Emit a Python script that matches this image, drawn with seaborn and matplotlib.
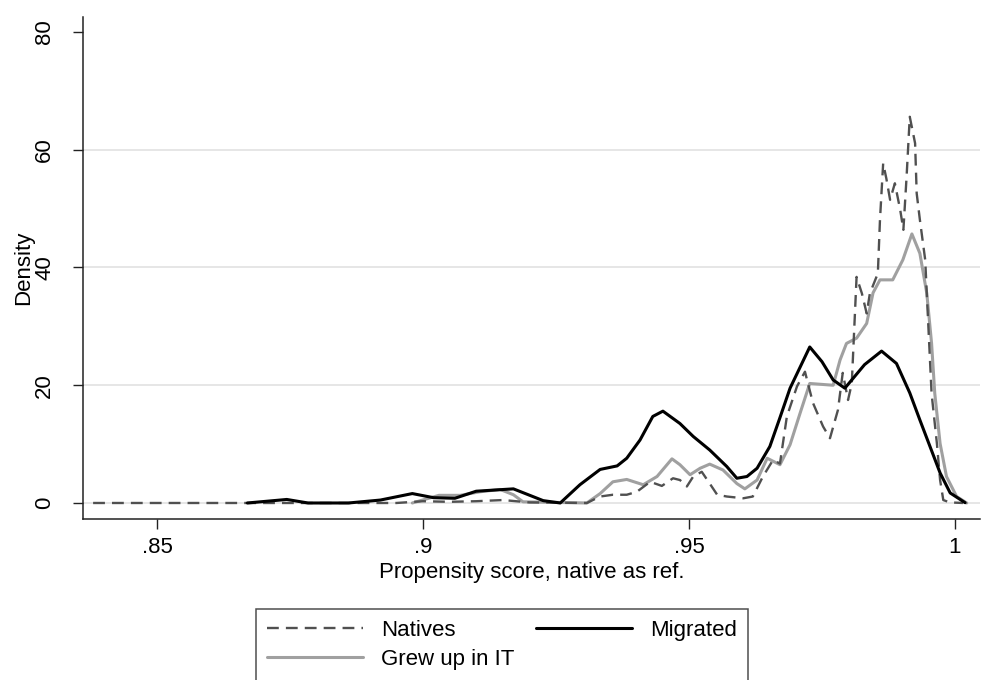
import matplotlib
matplotlib.use("Agg")
import matplotlib.pyplot as plt
from matplotlib.lines import Line2D
import seaborn as sns
import pandas as pd

# Kernel density estimates of the propensity score by group
natives_x = [0.838, 0.870, 0.895, 0.900, 0.905, 0.910, 0.915, 0.920, 0.9308,
             0.9333, 0.9357, 0.9383, 0.9402, 0.9427, 0.9449, 0.9470, 0.9483,
             0.9496, 0.9508, 0.9524, 0.9539, 0.9553, 0.9571, 0.9602, 0.9620,
             0.9639, 0.9658, 0.9671, 0.9684, 0.9703, 0.9718, 0.9733, 0.9752,
             0.9765, 0.9780, 0.9789, 0.9799, 0.9806, 0.9815, 0.9825, 0.9834,
             0.9840, 0.9855, 0.9859, 0.9865, 0.9871, 0.9878, 0.9887, 0.9897,
             0.9903, 0.9909, 0.9915, 0.9925, 0.9928, 0.9934, 0.9944, 0.9950,
             0.9956, 0.9966, 0.9972, 0.9978, 0.9990, 1.0015]
natives_y = [0.0, 0.0, 0.0, 0.3, 0.2, 0.3, 0.5, 0.1, 0.0,
             1.1, 1.4, 1.4, 1.9, 3.6, 2.9, 4.2, 3.9,
             2.8, 4.5, 5.3, 3.3, 1.4, 1.1, 0.8, 1.1,
             4.5, 7.3, 6.7, 14.7, 19.8, 22.3, 17.0, 13.0,
             11.0, 15.8, 22.1, 17.5, 20.3, 38.4, 35.6, 32.2,
             35.6, 39.0, 48.1, 57.7, 55.1, 51.5, 54.3, 49.8,
             46.4, 55.4, 65.6, 61.1, 52.6, 48.1, 41.3, 29.9,
             18.6, 10.1, 3.9, 0.5, 0.1, 0.0]

migrated_x = [0.867, 0.8744, 0.8784, 0.886, 0.892, 0.898, 0.902, 0.906, 0.910,
              0.917, 0.9226, 0.9258, 0.9295, 0.9333, 0.9365, 0.9383, 0.9408,
              0.9432, 0.9451, 0.9483, 0.9508, 0.9539, 0.9571, 0.9590, 0.9609,
              0.9628, 0.9652, 0.9671, 0.9690, 0.9727, 0.9750, 0.9771, 0.9793,
              0.9830, 0.9862, 0.9890, 0.9915, 0.9934, 0.9953, 0.9972, 0.9991,
              1.0019]
migrated_y = [0.0, 0.6, 0.0, 0.0, 0.5, 1.6, 0.9, 0.8, 2.0,
              2.4, 0.4, 0.0, 3.1, 5.7, 6.3, 7.6, 10.7,
              14.7, 15.6, 13.5, 11.3, 9.0, 6.2, 4.2, 4.5,
              5.9, 9.6, 14.5, 19.5, 26.5, 24.0, 20.9, 19.5,
              23.5, 25.8, 23.7, 18.7, 14.1, 9.6, 5.1, 1.7,
              0.05]

grew_x = [0.898, 0.903, 0.907, 0.9107, 0.9145, 0.917, 0.9188, 0.9308, 0.9333,
          0.9357, 0.9383, 0.9414, 0.9440, 0.9468, 0.9483, 0.9502, 0.9521,
          0.9539, 0.9564, 0.9590, 0.9605, 0.9628, 0.9647, 0.9671, 0.9690,
          0.9709, 0.9727, 0.9771, 0.9784, 0.9796, 0.9815, 0.9834, 0.9846,
          0.9859, 0.9883, 0.9902, 0.9919, 0.9934, 0.9947, 0.9956, 0.9962,
          0.9972, 0.9984, 1.0003, 1.0022]
grew_y = [0.0, 1.3, 1.3, 1.9, 2.3, 1.4, 0.2, 0.0, 1.6,
          3.6, 4.0, 3.1, 4.5, 7.5, 6.5, 4.8, 5.9,
          6.6, 5.6, 3.3, 2.4, 3.9, 7.6, 6.5, 9.9,
          15.3, 20.3, 20.0, 24.3, 27.1, 28.0, 30.5, 35.7,
          37.9, 37.9, 41.3, 45.7, 42.4, 35.6, 27.1, 18.6,
          10.1, 4.5, 1.1, 0.0]

series_labels = ["Natives", "Migrated", "Grew up in IT"]
x_ticks = [0.85, 0.90, 0.95, 1.00]
x_tick_labels = [".85", ".9", ".95", "1"]
y_ticks = [0, 20, 40, 60, 80]

sns.set_theme(style="white")
plt.rcParams["font.family"] = ["Liberation Sans", "DejaVu Sans"]
plt.rcParams["text.color"] = "black"
plt.rcParams["axes.labelcolor"] = "black"
plt.rcParams["xtick.color"] = "black"
plt.rcParams["ytick.color"] = "black"
FS = 16

fig = plt.figure(figsize=(9.91, 6.80), dpi=100)
ax = fig.add_axes([83 / 991, 1 - 519 / 680, (980 - 83) / 991, (519 - 17) / 680])

# light horizontal grid
for gy in [0, 20, 40, 60]:
    ax.axhline(gy, color="#e6e6e6", lw=1.4, zorder=0)

nat = pd.DataFrame({"x": natives_x, "y": natives_y})
mig = pd.DataFrame({"x": migrated_x, "y": migrated_y})
grw = pd.DataFrame({"x": grew_x, "y": grew_y})

nat_color, mig_color, grw_color = "#505050", "#000000", "#a0a0a0"
sns.lineplot(data=nat, x="x", y="y", ax=ax, color=nat_color, lw=1.7,
             estimator=None, sort=False, zorder=3)
ax.lines[-1].set_dashes((5, 3))
sns.lineplot(data=grw, x="x", y="y", ax=ax, color=grw_color, lw=2.2,
             estimator=None, sort=False, zorder=2)
sns.lineplot(data=mig, x="x", y="y", ax=ax, color=mig_color, lw=2.2,
             estimator=None, sort=False, zorder=4)

ax.set_xlim(0.8361, 1.0047)
ax.set_ylim(-2.72, 82.55)
ax.set_xticks(x_ticks)
ax.set_xticklabels(x_tick_labels, fontsize=FS)
ax.set_yticks(y_ticks)
ax.set_yticklabels([str(v) for v in y_ticks], fontsize=FS, rotation=90, va="center")
ax.tick_params(axis="both", direction="out", length=7, width=1.0, color="#222222",
               left=True, bottom=True)
ax.tick_params(axis="y", pad=13)
ax.tick_params(axis="x", pad=6)

for side in ["top", "right"]:
    ax.spines[side].set_visible(False)
for side in ["left", "bottom"]:
    ax.spines[side].set_color("#222222")
    ax.spines[side].set_linewidth(1.1)

ax.set_xlabel("Propensity score, native as ref.", fontsize=FS, labelpad=3)
ax.set_ylabel("Density", fontsize=FS, labelpad=0)

handles = [
    Line2D([], [], color=nat_color, lw=1.7, dashes=(5, 3)),
    Line2D([], [], color=grw_color, lw=2.2),
    Line2D([], [], color=mig_color, lw=2.2),
]
labels = [series_labels[0], series_labels[2], series_labels[1]]
leg = fig.legend(handles, labels, ncol=2, loc="upper center",
                 bbox_to_anchor=(502 / 991, 1 - 598 / 680), fontsize=FS,
                 frameon=True, fancybox=False, edgecolor="#222222",
                 handlelength=4.3, handletextpad=0.8, columnspacing=1.0,
                 labelspacing=0.35, borderpad=0.5)
leg.get_frame().set_linewidth(1.1)

fig.savefig("out.png", dpi=100, facecolor="white")
